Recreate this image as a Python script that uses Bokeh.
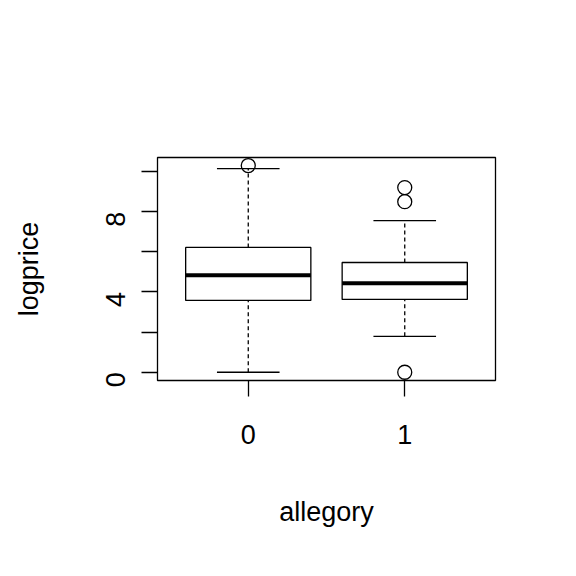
import math
from bokeh.plotting import figure
from bokeh.embed import file_html
from bokeh.resources import INLINE
from bokeh.models import FixedTicker

groups = ["0", "1"]
pos = [1, 2]
lower_whisk = [0.0, 1.79]
q1 = [3.58, 3.63]
median = [4.83, 4.43]
q3 = [6.22, 5.47]
upper_whisk = [10.15, 7.56]
out_x = [1, 2, 2, 2]
out_y = [10.3, 9.2, 8.5, 0.0]

p = figure(width=560, height=560, output_backend="svg", toolbar_location=None,
           x_range=(0.42, 2.58), y_range=(-0.41, 10.7),
           min_border_left=157, min_border_right=65, min_border_top=157, min_border_bottom=180)
p.xgrid.visible = False
p.ygrid.visible = False
p.outline_line_color = "black"
p.outline_line_width = 1.3
p.background_fill_color = None
p.border_fill_color = "white"

bw = 0.4
cw = 0.2
p.segment(x0=pos, y0=q3, x1=pos, y1=upper_whisk, line_color="black", line_dash="4 3", line_width=1.3)
p.segment(x0=pos, y0=lower_whisk, x1=pos, y1=q1, line_color="black", line_dash="4 3", line_width=1.3)
p.segment(x0=[x - cw for x in pos], y0=upper_whisk, x1=[x + cw for x in pos], y1=upper_whisk, line_color="black", line_width=1.3)
p.segment(x0=[x - cw for x in pos], y0=lower_whisk, x1=[x + cw for x in pos], y1=lower_whisk, line_color="black", line_width=1.3)
p.quad(left=[x - bw for x in pos], right=[x + bw for x in pos], bottom=q1, top=q3,
       fill_color="white", line_color="black", line_width=1.3)
p.segment(x0=[x - bw for x in pos], y0=median, x1=[x + bw for x in pos], y1=median, line_color="black", line_width=4)
p.scatter(out_x, out_y, marker="circle", size=14, fill_color=None, line_color="black", line_width=1.3)

font = "Liberation Sans"
p.xaxis.ticker = FixedTicker(ticks=pos)
p.xaxis.major_label_overrides = {1: "0", 2: "1"}
p.yaxis.ticker = FixedTicker(ticks=[0, 2, 4, 6, 8, 10])
p.yaxis.major_label_overrides = {0: "0", 2: "", 4: "4", 6: "", 8: "8", 10: ""}
p.yaxis.major_label_orientation = math.pi / 2
for ax in (p.xaxis, p.yaxis):
    ax.axis_line_color = None
    ax.minor_tick_line_color = None
    ax.major_tick_out = 16
    ax.major_tick_in = 0
    ax.major_tick_line_color = "black"
    ax.major_tick_line_width = 1.3
    ax.major_label_text_font = font
    ax.major_label_text_font_size = "27px"
    ax.major_label_text_color = "black"
    ax.major_label_text_font_style = "normal"
    ax.axis_label_text_font = font
    ax.axis_label_text_font_size = "27px"
    ax.axis_label_text_font_style = "normal"
    ax.axis_label_text_color = "black"
p.xaxis.major_label_standoff = 28
p.yaxis.major_label_standoff = 26
p.xaxis.axis_label_standoff = 50
p.yaxis.axis_label_standoff = 50
p.xaxis.axis_label = "allegory"
p.yaxis.axis_label = "logprice"

open("out.html", "w").write(file_html(p, INLINE))
